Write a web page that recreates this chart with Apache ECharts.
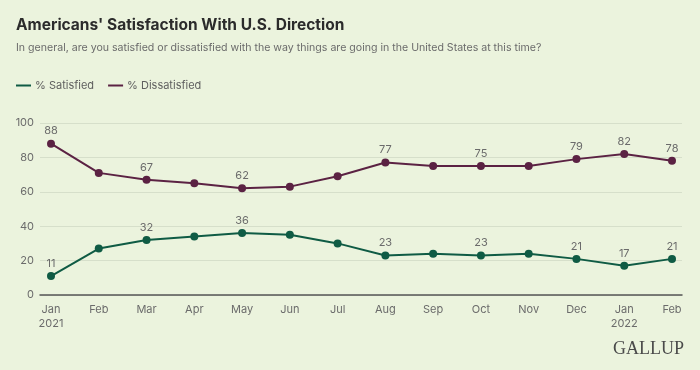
<!DOCTYPE html>
<html>
<head>
<meta charset="utf-8">
<script src="https://cdn.jsdelivr.net/npm/echarts@6/dist/echarts.min.js"></script>
<style>
html,body{margin:0;padding:0;background:#ebf3dd;}
#c{width:700px;height:370px;}
</style>
</head>
<body>
<div id="c"></div>
<script>
const months = ["Jan","Feb","Mar","Apr","May","Jun","Jul","Aug","Sep","Oct","Nov","Dec","Jan","Feb"];
const yearLabels = {0: "2021", 12: "2022"};
const satisfied = [11, 27, 32, 34, 36, 35, 30, 23, 24, 23, 24, 21, 17, 21];
const dissatisfied = [88, 71, 67, 65, 62, 63, 69, 77, 75, 75, 75, 79, 82, 78];
const labeledIdx = [0, 2, 4, 7, 9, 11, 12, 13];
const yTicks = [0, 20, 40, 60, 80, 100];

const GREEN = '#0f5b44';
const PURPLE = '#5b2243';
const FONT = 'Inter, "Noto Sans", sans-serif';

function withLabels(arr) {
  return arr.map((v, i) => ({
    value: v,
    label: { show: labeledIdx.indexOf(i) >= 0 }
  }));
}

const chart = echarts.init(document.getElementById('c'), null, {renderer: 'canvas'});
chart.setOption({
  backgroundColor: '#ebf3dd',
  animation: false,
  textStyle: { fontFamily: FONT },
  title: [{
    text: "Americans' Satisfaction With U.S. Direction",
    left: 11, top: 12,
    textStyle: { fontFamily: FONT, fontSize: 15.5, fontWeight: 'bold', color: '#2b2b2b' }
  }, {
    text: 'In general, are you satisfied or dissatisfied with the way things are going in the United States at this time?',
    left: 11, top: 37,
    textStyle: { fontFamily: FONT, fontSize: 10.6, fontWeight: 'normal', color: '#6b6b6b' }
  }],
  legend: {
    left: 11, top: 75,
    icon: 'rect', itemWidth: 15, itemHeight: 2, itemGap: 14,
    textStyle: { fontFamily: FONT, fontSize: 11, color: '#5f5f5f', padding: [0, 0, 0, -1] },
    data: ['% Satisfied', '% Dissatisfied']
  },
  grid: [
    { left: 40, right: 18, top: 123, bottom: 75 },
    { left: 51, right: 28, top: 123, bottom: 75 }
  ],
  xAxis: [{
    gridIndex: 0, type: 'category', data: months, boundaryGap: false,
    axisLine: { show: true, lineStyle: { color: '#555', width: 1.5 } },
    axisTick: { show: false }, axisLabel: { show: false }, splitLine: { show: false }
  }, {
    gridIndex: 1, type: 'category', data: months, boundaryGap: false,
    axisLine: { show: false }, axisTick: { show: false },
    axisLabel: {
      interval: 0, margin: 8, fontFamily: FONT, fontSize: 11, color: '#6b6b6b', lineHeight: 14,
      formatter: (v, i) => yearLabels[i] ? v + '\n' + yearLabels[i] : v
    }
  }],
  yAxis: [{
    gridIndex: 0, type: 'value', min: yTicks[0], max: yTicks[yTicks.length - 1], interval: 20,
    axisLine: { show: false }, axisTick: { show: false },
    axisLabel: { margin: 6, fontFamily: FONT, fontSize: 11, color: '#6b6b6b' },
    splitLine: { lineStyle: { color: '#d6dfca', width: 1 } }
  }, {
    gridIndex: 1, type: 'value', min: 0, max: 100, show: false
  }],
  series: [{
    name: '% Satisfied', type: 'line', xAxisIndex: 1, yAxisIndex: 1,
    data: withLabels(satisfied),
    color: GREEN,
    symbol: 'circle', symbolSize: 8,
    lineStyle: { width: 2, color: GREEN },
    itemStyle: { color: GREEN },
    label: { position: 'top', distance: 3, fontFamily: FONT, fontSize: 11, color: '#6b6b6b' }
  }, {
    name: '% Dissatisfied', type: 'line', xAxisIndex: 1, yAxisIndex: 1,
    data: withLabels(dissatisfied),
    color: PURPLE,
    symbol: 'circle', symbolSize: 8,
    lineStyle: { width: 2, color: PURPLE },
    itemStyle: { color: PURPLE },
    label: { position: 'top', distance: 3, fontFamily: FONT, fontSize: 11, color: '#6b6b6b' }
  }],
  graphic: [{
    type: 'text', right: 16, top: 340,
    style: { text: 'GALLUP', font: '18px "Liberation Serif", "DejaVu Serif", serif', fill: '#4a4a4a' }
  }]
});
</script>
</body>
</html>
